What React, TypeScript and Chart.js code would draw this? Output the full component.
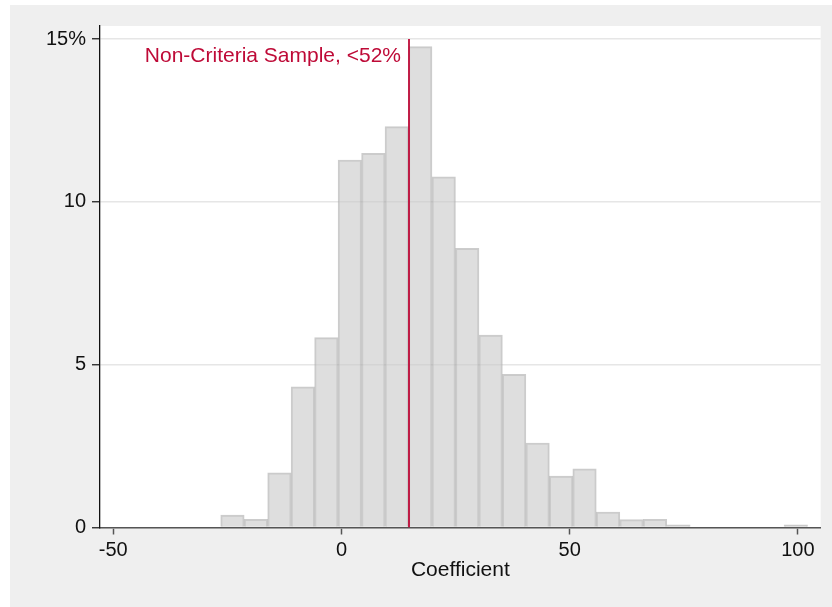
import React, { useEffect, useRef } from "react";
import { Chart, registerables } from "chart.js";

Chart.register(...registerables);

// ---- data ----
const binCenters = [
  -23.88, -18.74, -13.59, -8.45, -3.31, 1.83, 6.98, 12.12, 17.26, 22.41,
  27.55, 32.69, 37.83, 42.98, 48.12, 53.26, 58.41, 63.55, 68.69, 73.83,
  78.98, 84.12, 89.26, 94.41, 99.55,
];
const binPercents: (number | null)[] = [
  0.38, 0.25, 1.68, 4.32, 5.83, 11.28, 11.49, 12.31, 14.77, 10.77,
  8.57, 5.91, 4.7, 2.59, 1.58, 1.8, 0.47, 0.24, 0.25, 0.08,
  null, null, null, null, 0.08,
];
const xTickValues = [-50, 0, 50, 100];
const yTickValues = [0, 5, 10, 15];
const referenceLineX = 14.8;
const referenceLineTop = 15;
const referenceLabel = "Non-Criteria Sample, <52%";
const xAxisTitle = "Coefficient";

const FONT = "'Liberation Sans', Arial, Helvetica, sans-serif";
const RED = "#BE0A37";

const plotBackground = {
  id: "plotBackground",
  beforeDraw(chart: any) {
    const { ctx, chartArea } = chart;
    ctx.save();
    ctx.fillStyle = "#FFFFFF";
    ctx.fillRect(
      chartArea.left,
      chartArea.top,
      chartArea.right - chartArea.left,
      chartArea.bottom - chartArea.top
    );
    ctx.restore();
  },
};

const refLabelPlugin = {
  id: "refLabel",
  afterDatasetsDraw(chart: any) {
    const { ctx, scales } = chart;
    const x = scales.x.getPixelForValue(referenceLineX) - 8;
    const y = scales.y.getPixelForValue(referenceLineTop) + 22.7;
    ctx.save();
    ctx.font = `21px ${FONT}`;
    ctx.fillStyle = RED;
    ctx.textAlign = "right";
    ctx.textBaseline = "alphabetic";
    ctx.fillText(referenceLabel, x, y);
    ctx.restore();
  },
};

export default function App() {
  const canvasRef = useRef<HTMLCanvasElement | null>(null);

  useEffect(() => {
    const canvas = canvasRef.current;
    if (!canvas) return;
    const chart = new Chart(canvas, {
      type: "bar",
      data: {
        datasets: [
          {
            type: "line",
            data: [
              { x: referenceLineX, y: 0 },
              { x: referenceLineX, y: referenceLineTop },
            ],
            borderColor: RED,
            borderWidth: 1.8,
            pointRadius: 0,
            fill: false,
            order: 0,
          } as any,
          {
            type: "bar",
            data: binCenters.map((c, i) => ({ x: c, y: binPercents[i] })),
            backgroundColor: "rgba(200,200,200,0.6)",
            borderColor: "rgba(170,170,170,0.6)",
            borderWidth: 1.3,
            barPercentage: 1,
            categoryPercentage: 1,
            order: 1,
          } as any,
        ],
      },
      options: {
        responsive: false,
        animation: false,
        devicePixelRatio: 1,
        layout: { padding: { left: 0, right: 11.3, top: 21, bottom: 0 } },
        plugins: {
          legend: { display: false },
          tooltip: { enabled: false },
        },
        scales: {
          x: {
            type: "linear",
            min: -52.9,
            max: 105,
            offset: false,
            afterBuildTicks: (s: any) => {
              s.ticks = xTickValues.map((v) => ({ value: v }));
            },
            afterFit: (s: any) => {
              s.height = 79.5;
            },
            grid: {
              offset: false,
              drawOnChartArea: false,
              drawTicks: true,
              tickLength: 7,
              tickColor: "#555555",
              tickWidth: 1.5,
            },
            border: { display: true, color: "#555555", width: 1.5 },
            ticks: {
              font: { size: 20, family: FONT },
              color: "#111111",
              padding: 4,
              maxRotation: 0,
              autoSkip: false,
              includeBounds: false,
              callback: (v: any) => String(v),
            },
            title: {
              display: true,
              text: xAxisTitle,
              font: { size: 21, family: FONT },
              color: "#111111",
              padding: { top: 0, bottom: 24 },
            },
          },
          y: {
            type: "linear",
            min: 0,
            max: 15.4,
            afterBuildTicks: (s: any) => {
              s.ticks = yTickValues.map((v) => ({ value: v }));
            },
            afterFit: (s: any) => {
              s.width = 90;
            },
            grid: {
              offset: false,
              color: "#E6E6E6",
              lineWidth: 1.5,
              drawTicks: true,
              tickLength: 8,
              tickColor: "#222222",
              tickWidth: 1.3,
            },
            border: { display: true, color: "#111111", width: 1.3 },
            ticks: {
              font: { size: 20, family: FONT },
              color: "#111111",
              padding: 6,
              includeBounds: false,
              callback: (v: any) => (v === 15 ? "15%" : String(v)),
            },
          },
        },
      },
      plugins: [plotBackground, refLabelPlugin],
    } as any);
    return () => chart.destroy();
  }, []);

  return (
    <div
      style={{
        position: "absolute",
        left: 10,
        top: 5,
        width: 822,
        height: 602,
        background: "#EFEFEF",
      }}
    >
      <canvas ref={canvasRef} width={822} height={602} style={{ display: "block" }} />
    </div>
  );
}
